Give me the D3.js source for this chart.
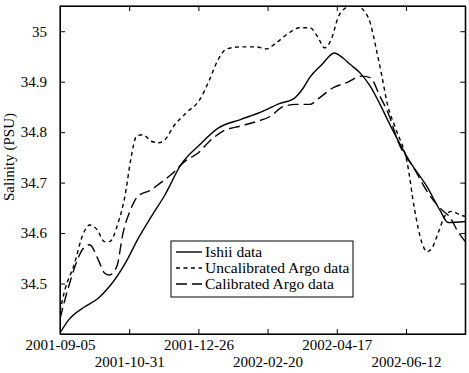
<!DOCTYPE html>
<html>
<head>
<meta charset="utf-8">
<script src="https://cdn.jsdelivr.net/npm/d3@7"></script>
<style>
  html, body { margin: 0; padding: 0; background: #fff; }
  svg { display: block; }
  text { font-family: "Liberation Serif", "Times New Roman", serif; fill: #000; }
</style>
</head>
<body>
<svg id="chart" width="469" height="373"></svg>
<script>
// ---- data ----
const xDomain = ["2001-09-05", "2002-07-30"];
const yDomain = [34.4, 35.05];
const xTickDates = ["2001-09-05", "2001-10-31", "2001-12-26", "2002-02-20", "2002-04-17", "2002-06-12"];
const yTickValues = [34.5, 34.6, 34.7, 34.8, 34.9, 35];

const ishiiDates = ["2001-09-05","2001-09-12","2001-09-25","2001-10-06","2001-10-15","2001-10-28","2001-11-07","2001-11-18","2001-11-29","2001-12-12","2001-12-27","2002-01-11","2002-01-29","2002-02-14","2002-03-02","2002-03-13","2002-03-21","2002-03-26","2002-04-05","2002-04-15","2002-04-22","2002-04-28","2002-05-06","2002-05-14","2002-05-22","2002-05-30","2002-06-15","2002-06-29","2002-07-10","2002-07-16","2002-07-30"];
const ishiiSal = [34.402,34.428,34.454,34.471,34.494,34.541,34.588,34.633,34.676,34.736,34.775,34.808,34.825,34.839,34.857,34.866,34.888,34.908,34.934,34.957,34.947,34.934,34.917,34.891,34.855,34.815,34.742,34.692,34.643,34.621,34.623];

const uncalDates = ["2001-09-05","2001-09-09","2001-09-16","2001-09-24","2001-09-29","2001-10-05","2001-10-11","2001-10-15","2001-10-22","2001-10-28","2001-11-01","2001-11-06","2001-11-11","2001-11-18","2001-11-24","2001-11-29","2001-12-06","2001-12-16","2001-12-27","2002-01-04","2002-01-11","2002-01-18","2002-01-29","2002-02-11","2002-02-19","2002-02-27","2002-03-10","2002-03-18","2002-03-26","2002-04-02","2002-04-07","2002-04-13","2002-04-18","2002-04-25","2002-05-02","2002-05-07","2002-05-14","2002-05-19","2002-05-23","2002-05-28","2002-06-04","2002-06-13","2002-06-19","2002-06-25","2002-06-29","2002-07-03","2002-07-08","2002-07-14","2002-07-19","2002-07-26","2002-07-30"];
const uncalSal = [34.445,34.488,34.534,34.600,34.616,34.607,34.583,34.583,34.620,34.679,34.742,34.792,34.795,34.782,34.779,34.785,34.812,34.838,34.864,34.904,34.944,34.965,34.969,34.969,34.965,34.977,34.998,35.007,35.007,34.987,34.967,34.987,35.027,35.048,35.055,35.046,35.017,34.964,34.917,34.855,34.805,34.739,34.646,34.580,34.563,34.570,34.600,34.636,34.643,34.636,34.633];

const calDates = ["2001-09-05","2001-09-12","2001-09-24","2001-09-29","2001-10-06","2001-10-11","2001-10-15","2001-10-21","2001-10-26","2001-11-01","2001-11-07","2001-11-18","2001-11-25","2001-12-04","2001-12-15","2001-12-26","2002-01-04","2002-01-15","2002-01-29","2002-02-11","2002-02-22","2002-03-05","2002-03-15","2002-03-26","2002-04-03","2002-04-14","2002-04-25","2002-05-07","2002-05-14","2002-05-22","2002-05-29","2002-06-06","2002-06-19","2002-06-30","2002-07-11","2002-07-18","2002-07-23","2002-07-30"];
const calSal = [34.430,34.494,34.570,34.577,34.547,34.521,34.517,34.534,34.600,34.646,34.673,34.686,34.699,34.716,34.742,34.759,34.782,34.802,34.812,34.821,34.831,34.851,34.855,34.855,34.868,34.888,34.898,34.911,34.908,34.871,34.835,34.779,34.726,34.679,34.646,34.630,34.607,34.583];

const seriesNames = ["Ishii data", "Uncalibrated Argo data", "Calibrated Argo data"];

// ---- layout ----
const parse = d3.timeParse("%Y-%m-%d");
const mLeft = 60, mRight = 465.3, mTop = 6, mBottom = 334;
const svg = d3.select("#chart");

const x = d3.scaleTime().domain(xDomain.map(parse)).range([mLeft, mRight]);
const y = d3.scaleLinear().domain(yDomain).range([mBottom, mTop]);

const styles = [
  { dash: null },
  { dash: "4,3.5" },
  { dash: "11,5" }
];
const series = [
  { dates: ishiiDates, vals: ishiiSal },
  { dates: uncalDates, vals: uncalSal },
  { dates: calDates, vals: calSal }
];

svg.append("defs").append("clipPath").attr("id", "clip")
  .append("rect").attr("x", mLeft).attr("y", mTop).attr("width", mRight - mLeft).attr("height", mBottom - mTop);

const line = d3.line().x(d => x(d[0])).y(d => y(d[1])).curve(d3.curveMonotoneX);

const plot = svg.append("g").attr("clip-path", "url(#clip)");
series.forEach((s, i) => {
  const pts = s.dates.map((d, j) => [parse(d), s.vals[j]]);
  plot.append("path")
    .datum(pts)
    .attr("d", line)
    .attr("fill", "none")
    .attr("stroke", "#000")
    .attr("stroke-width", 1.4)
    .attr("stroke-dasharray", styles[i].dash);
});

// axes (inward ticks, MATLAB-style box)
const tickDates = xTickDates.map(parse);
const fmt = d3.timeFormat("%Y-%m-%d");
const gx = svg.append("g").attr("transform", `translate(0,${mBottom})`)
  .call(d3.axisBottom(x).tickValues(tickDates).tickFormat(fmt).tickSizeInner(-5).tickSizeOuter(0).tickPadding(5.5));
gx.selectAll("text").style("font-size", "15px")
  .attr("y", (d, i) => 5.5 + (i % 2 === 1 ? 17 : 0));

svg.append("g").attr("transform", `translate(0,${mTop})`)
  .call(d3.axisTop(x).tickValues(tickDates).tickFormat("").tickSizeInner(-5).tickSizeOuter(0));

const gy = svg.append("g").attr("transform", `translate(${mLeft},0)`)
  .call(d3.axisLeft(y).tickValues(yTickValues).tickFormat(d3.format("")).tickSizeInner(-5).tickSizeOuter(0).tickPadding(13));
gy.selectAll("text").style("font-size", "15px");

svg.append("g").attr("transform", `translate(${mRight},0)`)
  .call(d3.axisRight(y).tickValues(yTickValues).tickFormat("").tickSizeInner(-5).tickSizeOuter(0));

svg.selectAll(".domain").attr("stroke", "#000");
svg.selectAll(".tick line").attr("stroke", "#000");

svg.append("rect").attr("x", mLeft).attr("y", mTop).attr("width", mRight - mLeft).attr("height", mBottom - mTop)
  .attr("fill", "none").attr("stroke", "#000").attr("stroke-width", 1.2);

// y label
svg.append("text")
  .attr("transform", `translate(14,157) rotate(-90)`)
  .attr("text-anchor", "middle")
  .style("font-size", "15px")
  .text("Salinity (PSU)");

// legend
const lg = svg.append("g");
lg.append("rect").attr("x", 171).attr("y", 241).attr("width", 182).attr("height", 56)
  .attr("fill", "#fff").attr("stroke", "#000").attr("stroke-width", 1);
const rowY = [252, 268, 284];
seriesNames.forEach((name, i) => {
  lg.append("line").attr("x1", 176).attr("x2", 202).attr("y1", rowY[i]).attr("y2", rowY[i])
    .attr("stroke", "#000").attr("stroke-width", 1.4).attr("stroke-dasharray", styles[i].dash);
  lg.append("text").attr("x", 205).attr("y", rowY[i]).attr("dy", "0.35em")
    .style("font-size", "15.5px").text(name);
});
</script>
</body>
</html>
